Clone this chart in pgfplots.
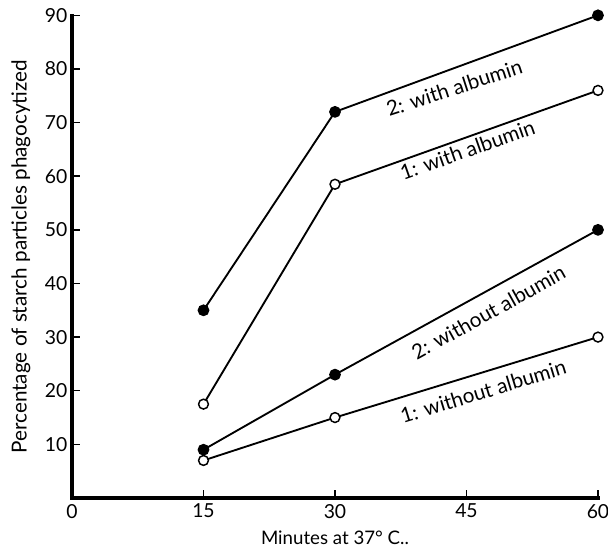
\documentclass[border=0pt]{standalone}
\usepackage{pgfplots}
\pgfplotsset{compat=1.18}
\usepackage{fontspec}
\setmainfont{Lato}
\begin{document}
\begin{tikzpicture}
\useasboundingbox (-54pt,-39pt) rectangle (402pt,373.5pt);
\begin{axis}[
  scale only axis, width=394.5pt, height=362pt,
  xmin=0, xmax=60, ymin=0, ymax=90,
  axis lines=left,
  x axis line style={line width=2.6pt, -},
  y axis line style={line width=2.6pt, -},
  xtick={0,15,30,45,60}, ytick={10,20,...,90},
  tick style={line width=1.1pt, black}, major tick length=6pt,
  tick align=inside,
  /pgf/number format/assume math mode=true,
  ticklabel style={font=\fontsize{14.5}{17}\selectfont},
  xticklabel style={yshift=-1pt},
  xlabel={Minutes at 37° C..},
  ylabel={Percentage of starch particles phagocytized},
  xlabel style={font=\fontsize{14}{16}\selectfont, yshift=-3pt},
  ylabel style={font=\fontsize{15.5}{18}\selectfont, yshift=4pt},
  clip=false,
]
\draw[line width=2.6pt, line cap=rect] (rel axis cs:0,1) -- (rel axis cs:0,0) -- (rel axis cs:1,0);
\addplot[black, line width=1.4pt, mark=*, mark size=3.7pt, mark options={fill=black}] coordinates {(15,35) (30,72) (60,90)};
\addplot[black, line width=1.4pt, mark=*, mark size=3.7pt, mark options={fill=white, line width=1.1pt}] coordinates {(15,17.5) (30,58.5) (60,76)};
\addplot[black, line width=1.4pt, mark=*, mark size=3.7pt, mark options={fill=black}] coordinates {(15,9) (30,23) (60,50)};
\addplot[black, line width=1.4pt, mark=*, mark size=3.7pt, mark options={fill=white, line width=1.1pt}] coordinates {(15,7) (30,15) (60,30)};
\node[rotate=18, font=\fontsize{15.5}{18}\selectfont] at (axis cs:43.6,76.5) {2: with albumin};
\node[rotate=19.5, font=\fontsize{15.5}{18}\selectfont] at (axis cs:45.1,64.9) {1: with albumin};
\node[rotate=29, font=\fontsize{15.5}{18}\selectfont] at (axis cs:47.5,34.6) {2: without albumin};
\node[rotate=17, font=\fontsize{15.5}{18}\selectfont] at (axis cs:46.9,19.9) {1: without albumin};
\end{axis}
\end{tikzpicture}
\end{document}
